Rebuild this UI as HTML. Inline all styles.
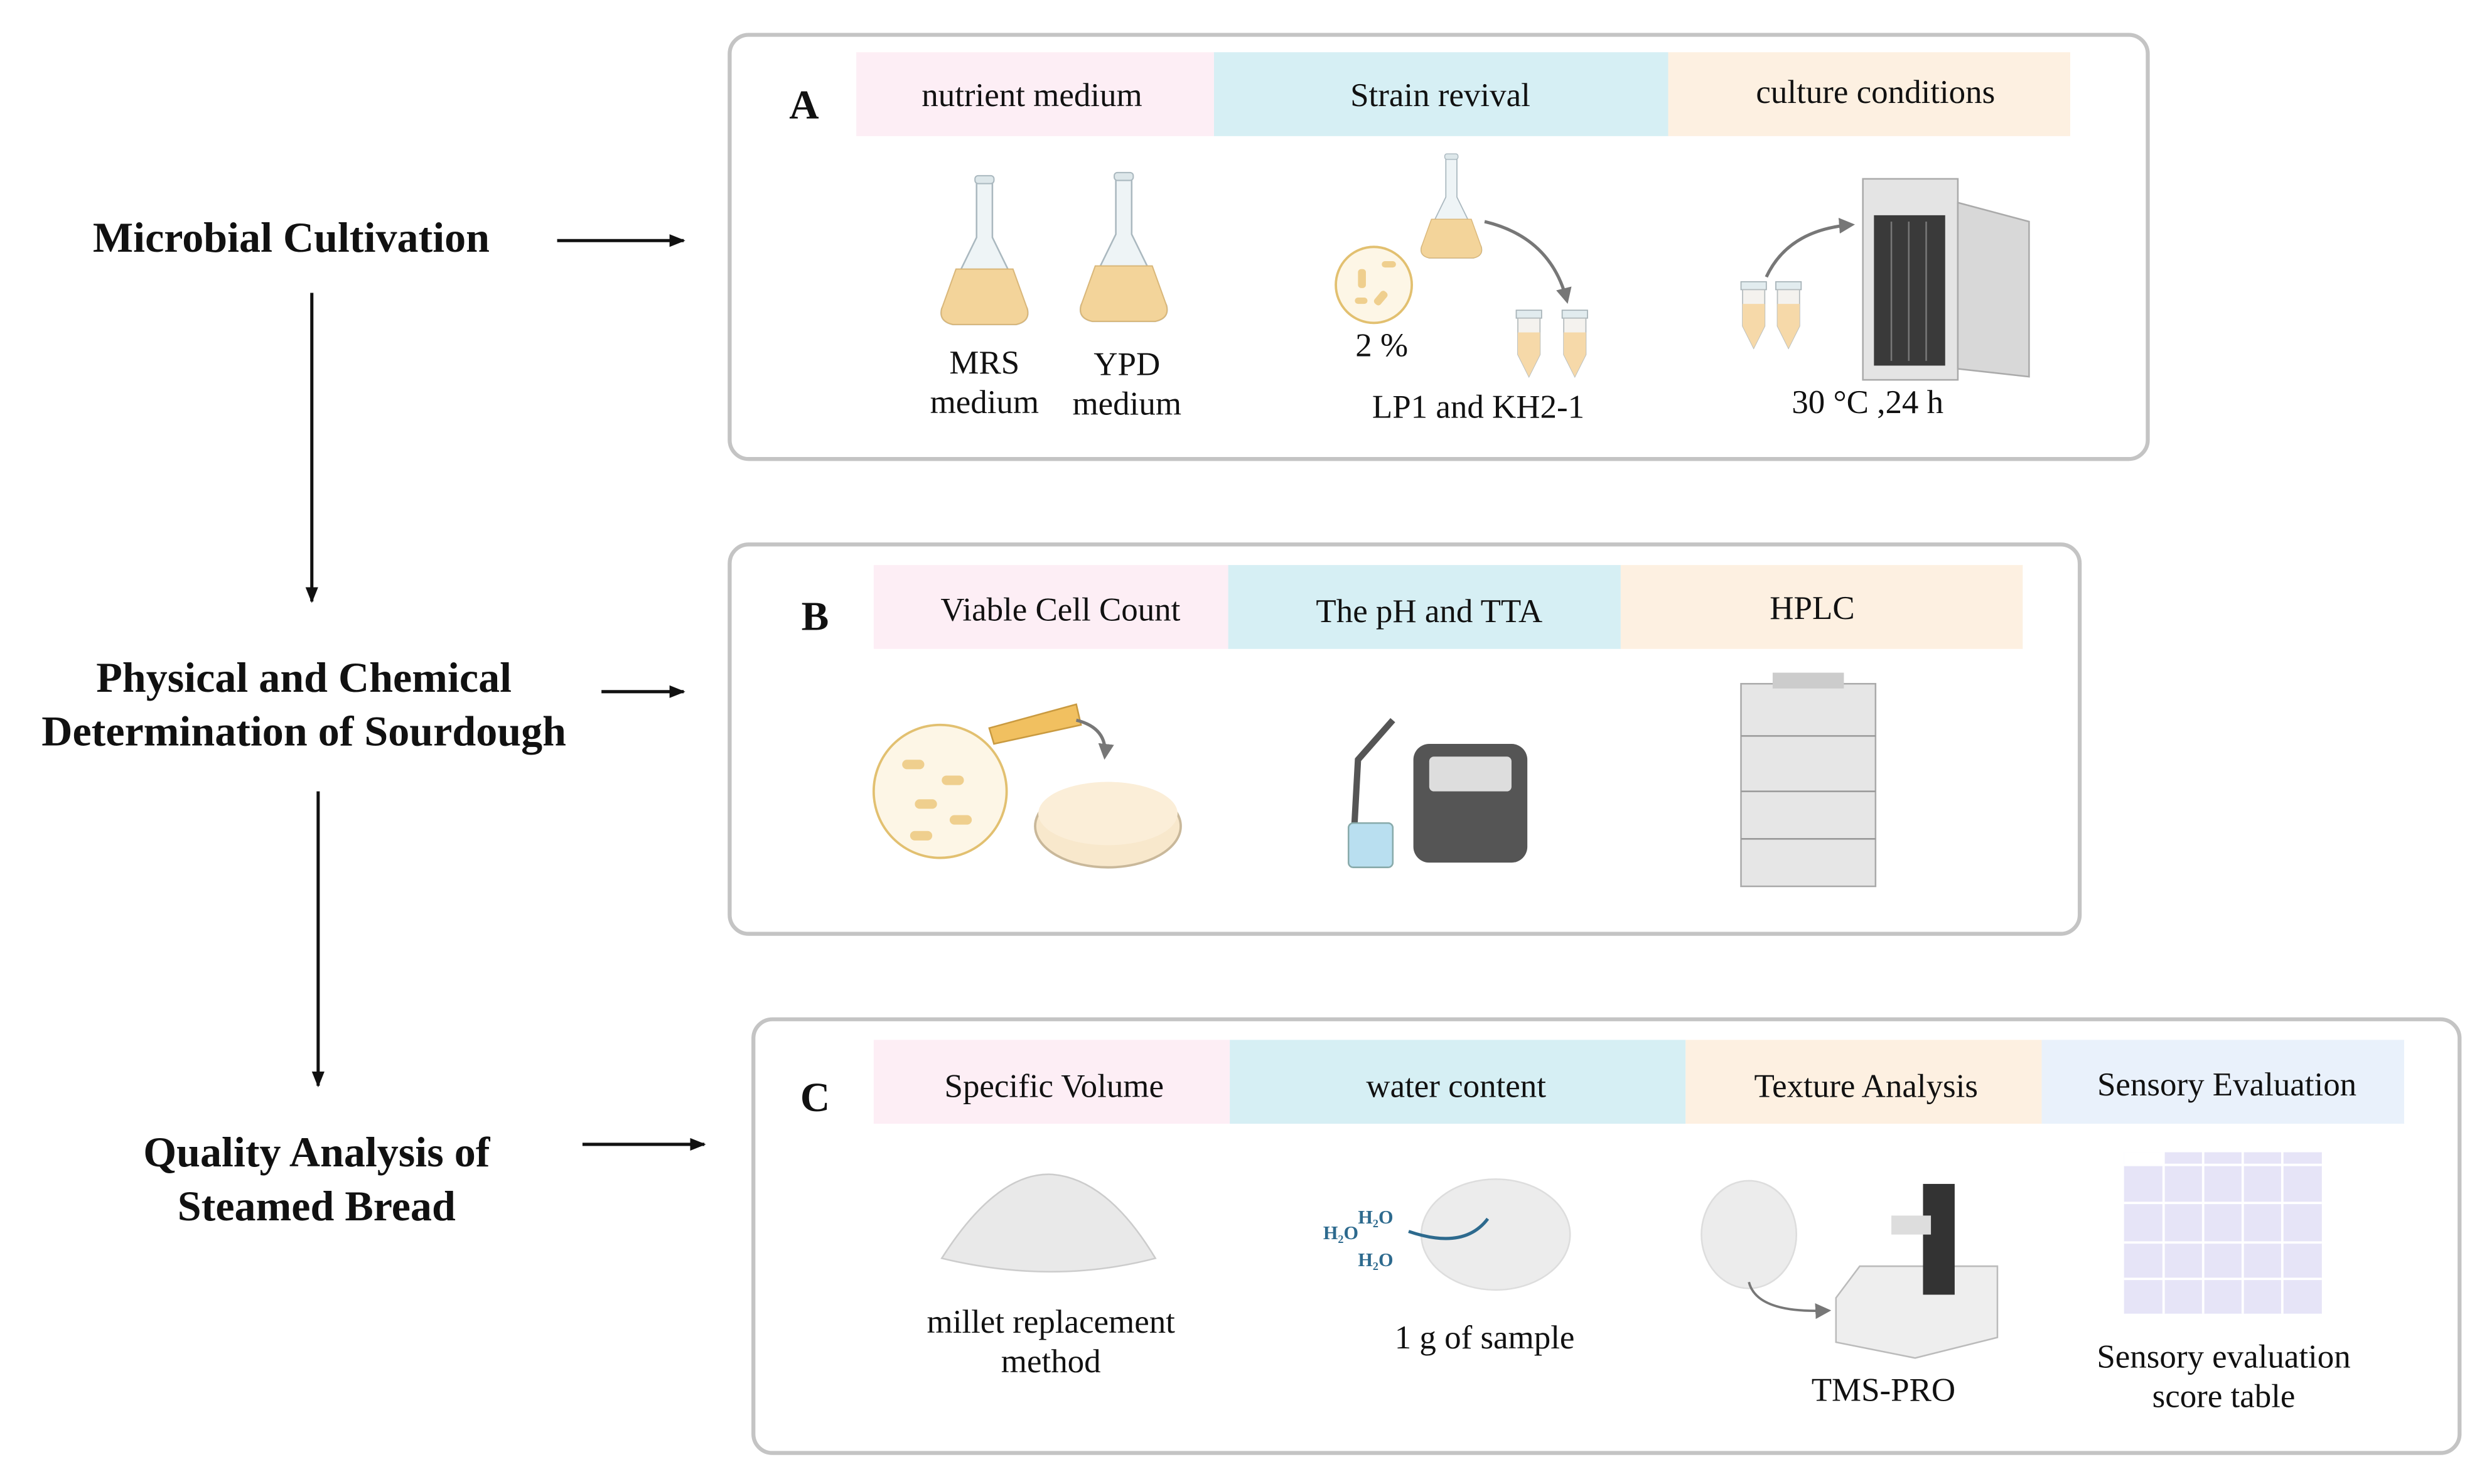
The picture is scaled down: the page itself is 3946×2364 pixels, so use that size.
<!DOCTYPE html>
<html><head><meta charset="utf-8"><style>
html,body{margin:0;padding:0;background:#fff;}
svg{display:block;}
svg text{font-family:"Liberation Serif","Times New Roman",serif !important;}
</style></head><body>
<svg width="3946" height="2364" viewBox="0 0 1565 937.6" xmlns="http://www.w3.org/2000/svg" font-family="Liberation Serif, serif">
<defs>
<marker id="ah" markerWidth="10" markerHeight="10" refX="9" refY="5" orient="auto" markerUnits="userSpaceOnUse"><path d="M0,1 L10,5 L0,9 Z" fill="#111"/></marker>
<marker id="gh" markerWidth="10" markerHeight="10" refX="8" refY="5" orient="auto" markerUnits="userSpaceOnUse"><path d="M0,0 L10,5 L0,10 Z" fill="#777"/></marker>
<g id="flask">
<path d="M-5,-50 L5,-50 L5,-15 L27,30 Q29,38 20,40 L-20,40 Q-29,38 -27,30 L-5,-15 Z" fill="#eef4f6" stroke="#aab8bf" stroke-width="1"/>
<path d="M-18,5 L18,5 L27,30 Q29,38 20,40 L-20,40 Q-29,38 -27,30 Z" fill="#f3d49a" stroke="#d9b77a" stroke-width="0.8"/>
<rect x="-6" y="-54" width="12" height="5" rx="2" fill="#dde7ea" stroke="#aab8bf" stroke-width="0.8"/>
</g>
<g id="tube">
<rect x="-8" y="0" width="16" height="5" fill="#e2ecef" stroke="#a7b3b8" stroke-width="0.7"/>
<path d="M-7,5 L7,5 L7,28 L0,42 L-7,28 Z" fill="#f4f2ee" stroke="#b5bcbe" stroke-width="0.7"/>
<path d="M-7,14 L7,14 L7,28 L0,42 L-7,28 Z" fill="#f6d9a9"/>
</g>
</defs>

<g font-weight="bold" font-size="27" text-anchor="middle" fill="#111">
<text x="184" y="159">Microbial Cultivation</text>
<text x="192" y="437">Physical and Chemical</text>
<text x="192" y="471">Determination of Sourdough</text>
<text x="200" y="737">Quality Analysis of</text>
<text x="200" y="771">Steamed Bread</text>
</g>
<g stroke="#111" stroke-width="2" marker-end="url(#ah)">
<line x1="352" y1="152" x2="432" y2="152"/>
<line x1="380" y1="437" x2="432" y2="437"/>
<line x1="368" y1="723" x2="445" y2="723"/>
<line x1="197" y1="185" x2="197" y2="380"/>
<line x1="201" y1="500" x2="201" y2="686"/>
</g>

<!-- Box A -->
<rect x="461" y="22" width="896" height="268" rx="12" fill="#fff" stroke="#c4c4c4" stroke-width="2.5"/>
<rect x="541" y="33" width="226" height="53" fill="#fdeef5"/>
<rect x="767" y="33" width="287" height="53" fill="#d6eff4"/>
<rect x="1054" y="33" width="254" height="53" fill="#fdf0e1"/>
<text x="508" y="75" font-size="26" font-weight="bold" text-anchor="middle" fill="#111">A</text>
<g font-size="21" text-anchor="middle" fill="#111">
<text x="652" y="67">nutrient medium</text>
<text x="910" y="67">Strain revival</text>
<text x="1185" y="65">culture conditions</text>
<text x="622" y="236">MRS</text><text x="622" y="261">medium</text>
<text x="712" y="237">YPD</text><text x="712" y="262">medium</text>
<text x="873" y="225">2 %</text>
<text x="934" y="264">LP1 and KH2-1</text>
<text x="1180" y="261">30 °C ,24 h</text>
</g>
<use href="#flask" x="622" y="165"/>
<use href="#flask" x="710" y="163"/>
<g transform="translate(917,135) scale(0.7)"><use href="#flask"/></g>
<circle cx="868" cy="180" r="24" fill="#fdf6e6" stroke="#e2c070" stroke-width="1.5"/>
<g fill="#efcf8e"><rect x="858" y="170" width="5" height="12" rx="2"/><rect x="870" y="183" width="5" height="10" rx="2" transform="rotate(40 872 188)"/><rect x="873" y="165" width="9" height="4" rx="2"/><rect x="856" y="188" width="8" height="4" rx="2"/></g>
<path d="M938,140 Q980,150 990,190" fill="none" stroke="#777" stroke-width="2" marker-end="url(#gh)"/>
<use href="#tube" x="966" y="196"/><use href="#tube" x="995" y="196"/>
<use href="#tube" x="1108" y="178"/><use href="#tube" x="1130" y="178"/>
<path d="M1116,175 Q1130,145 1170,142" fill="none" stroke="#777" stroke-width="2" marker-end="url(#gh)"/>
<rect x="1177" y="113" width="60" height="127" fill="#e4e4e4" stroke="#aaa"/>
<rect x="1184" y="136" width="45" height="95" fill="#3a3a3a"/>
<g stroke="#777" stroke-width="1"><line x1="1195" y1="140" x2="1195" y2="228"/><line x1="1206" y1="140" x2="1206" y2="228"/><line x1="1217" y1="140" x2="1217" y2="228"/></g>
<path d="M1237,128 L1282,140 L1282,238 L1237,233 Z" fill="#d8d8d8" stroke="#aaa"/>

<!-- Box B -->
<rect x="461" y="344" width="853" height="246" rx="12" fill="#fff" stroke="#c4c4c4" stroke-width="2.5"/>
<rect x="552" y="357" width="224" height="53" fill="#fdeef5"/>
<rect x="776" y="357" width="248" height="53" fill="#d6eff4"/>
<rect x="1024" y="357" width="254" height="53" fill="#fdf0e1"/>
<text x="515" y="398" font-size="26" font-weight="bold" text-anchor="middle" fill="#111">B</text>
<g font-size="21" text-anchor="middle" fill="#111">
<text x="670" y="392">Viable Cell Count</text>
<text x="903" y="393">The pH and TTA</text>
<text x="1145" y="391">HPLC</text>
</g>
<circle cx="594" cy="500" r="42" fill="#fdf6e6" stroke="#e2c070" stroke-width="1.5"/>
<g fill="#efcf8e"><rect x="570" y="480" width="14" height="6" rx="3"/><rect x="595" y="490" width="14" height="6" rx="3"/><rect x="578" y="505" width="14" height="6" rx="3"/><rect x="600" y="515" width="14" height="6" rx="3"/><rect x="575" y="525" width="14" height="6" rx="3"/></g>
<path d="M625,460 L680,445 L683,458 L628,470 Z" fill="#f1c060" stroke="#c99a40"/>
<path d="M680,455 Q700,460 698,478" fill="none" stroke="#777" stroke-width="2" marker-end="url(#gh)"/>
<ellipse cx="700" cy="522" rx="46" ry="26" fill="#f8e8cc" stroke="#c9b89a" stroke-width="1.5"/>
<ellipse cx="700" cy="514" rx="44" ry="20" fill="#fbeed8"/>
<path d="M855,535 L858,480 L880,455" fill="none" stroke="#555" stroke-width="4"/>
<rect x="852" y="520" width="28" height="28" rx="3" fill="#b9dff0" stroke="#8aa"/>
<rect x="893" y="470" width="72" height="75" rx="10" fill="#555"/>
<rect x="903" y="478" width="52" height="22" rx="3" fill="#ddd"/>
<rect x="1100" y="432" width="85" height="128" fill="#e6e6e6" stroke="#aaa"/>
<g stroke="#999"><line x1="1100" y1="465" x2="1185" y2="465"/><line x1="1100" y1="500" x2="1185" y2="500"/><line x1="1100" y1="530" x2="1185" y2="530"/></g>
<rect x="1120" y="425" width="45" height="10" fill="#ccc"/>

<!-- Box C -->
<rect x="476" y="644" width="1078" height="274" rx="12" fill="#fff" stroke="#c4c4c4" stroke-width="2.5"/>
<rect x="552" y="657" width="225" height="53" fill="#fdeef5"/>
<rect x="777" y="657" width="288" height="53" fill="#d6eff4"/>
<rect x="1065" y="657" width="225" height="53" fill="#fdf0e1"/>
<rect x="1290" y="657" width="229" height="53" fill="#e9f1fb"/>
<text x="515" y="702" font-size="26" font-weight="bold" text-anchor="middle" fill="#111">C</text>
<g font-size="21" text-anchor="middle" fill="#111">
<text x="666" y="693">Specific Volume</text>
<text x="920" y="693">water content</text>
<text x="1179" y="693">Texture Analysis</text>
<text x="1407" y="692">Sensory Evaluation</text>
<text x="664" y="842">millet replacement</text>
<text x="664" y="867">method</text>
<text x="938" y="852">1 g of sample</text>
<text x="1190" y="885">TMS-PRO</text>
<text x="1405" y="864">Sensory evaluation</text>
<text x="1405" y="889">score table</text>
</g>
<path d="M595,795 Q630,740 665,742 Q700,745 730,795 Q665,812 595,795 Z" fill="#e9e9e9" stroke="#ccc"/>
<ellipse cx="945" cy="780" rx="47" ry="35" fill="#ececec" stroke="#ddd"/>
<path d="M940,770 Q925,790 890,778" fill="none" stroke="#2d6a8e" stroke-width="2"/>
<g font-size="12" fill="#2d6a8e" font-weight="bold">
<text x="858" y="773">H₂O</text><text x="836" y="783">H₂O</text><text x="858" y="800">H₂O</text></g>
<ellipse cx="1105" cy="780" rx="30" ry="34" fill="#ececec" stroke="#ddd"/>
<path d="M1105,810 Q1110,830 1155,828" fill="none" stroke="#777" stroke-width="1.5" marker-end="url(#gh)"/>
<path d="M1160,820 L1175,800 L1262,800 L1262,845 L1210,858 L1160,848 Z" fill="#eee" stroke="#bbb"/>
<rect x="1215" y="748" width="20" height="70" fill="#333"/>
<rect x="1195" y="768" width="25" height="12" fill="#ddd"/>
<rect x="1342" y="728" width="125" height="102" fill="#e6e4f7"/>
<g stroke="#fff" stroke-width="1.5"><line x1="1367" y1="728" x2="1367" y2="830"/><line x1="1392" y1="728" x2="1392" y2="830"/><line x1="1417" y1="728" x2="1417" y2="830"/><line x1="1442" y1="728" x2="1442" y2="830"/><line x1="1342" y1="736" x2="1467" y2="736"/><line x1="1342" y1="760" x2="1467" y2="760"/><line x1="1342" y1="785" x2="1467" y2="785"/><line x1="1342" y1="808" x2="1467" y2="808"/></g>
<rect x="1342" y="728" width="25" height="8" fill="#fff"/>
</svg>
</body></html>
